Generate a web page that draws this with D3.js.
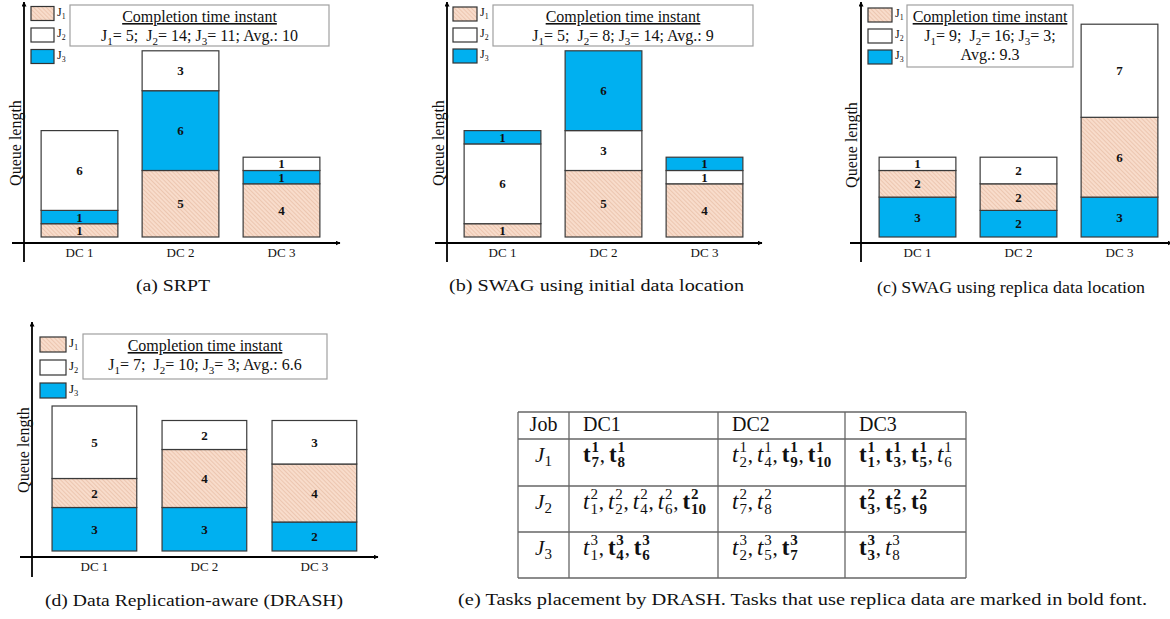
<!DOCTYPE html>
<html>
<head>
<meta charset="utf-8">
<script src="https://cdn.jsdelivr.net/npm/d3@7"></script>
<style>
  body { margin: 0; background: #fff; }
  svg text { font-family: "Liberation Serif", "Times New Roman", serif; fill: #111; }
</style>
</head>
<body>
<svg id="fig" width="1170" height="619"></svg>
<script>
// 数据
const categories = ['DC 1', 'DC 2', 'DC 3']
const jobs = ['J1', 'J2', 'J3']

// (a) SRPT
const srptJ1 = [1, 5, 4]
const srptJ2 = [6, 3, 1]
const srptJ3 = [1, 6, 1]
const srptDone = [5, 14, 11]
const srptAvg = '10'

// (b) SWAG 初始数据位置
const swagInitJ1 = [1, 5, 4]
const swagInitJ2 = [6, 3, 1]
const swagInitJ3 = [1, 6, 1]
const swagInitDone = [5, 8, 14]
const swagInitAvg = '9'

// (c) SWAG 副本数据位置
const swagRepJ1 = [2, 2, 6]
const swagRepJ2 = [1, 2, 7]
const swagRepJ3 = [3, 2, 3]
const swagRepDone = [9, 16, 3]
const swagRepAvg = '9.3'

// (d) DRASH
const drashJ1 = [2, 4, 4]
const drashJ2 = [5, 2, 3]
const drashJ3 = [3, 3, 2]
const drashDone = [7, 10, 3]
const drashAvg = '6.6'

// (e) 表格：'*' 表示使用副本数据（粗体）
const tableHeader = ['Job', 'DC1', 'DC2', 'DC3']
const dc1Tasks = [['7*', '8*'], ['1', '2', '4', '6', '10*'], ['1', '4*', '6*']]
const dc2Tasks = [['2', '4', '9*', '10*'], ['7', '8'], ['2', '5', '7*']]
const dc3Tasks = [['1*', '3*', '5*', '6'], ['3*', '5*', '9*'], ['3*', '8']]

const colors = {J1: 'url(#hatch)', J2: '#ffffff', J3: '#00b0f0'}

const svg = d3.select('#fig')
const defs = svg.append('defs')

// 斜线填充
const pat = defs.append('pattern')
  .attr('id', 'hatch')
  .attr('patternUnits', 'userSpaceOnUse')
  .attr('width', 3)
  .attr('height', 3)
  .attr('patternTransform', 'rotate(-45)')
pat.append('rect').attr('width', 3).attr('height', 3).attr('fill', '#f8dccb')
pat.append('line').attr('x1', 0).attr('y1', 0).attr('x2', 0).attr('y2', 3)
  .attr('stroke', '#e4b89e').attr('stroke-width', 1.2)

defs.append('marker')
  .attr('id', 'arrow')
  .attr('viewBox', '0 0 10 10')
  .attr('refX', 9).attr('refY', 5)
  .attr('markerWidth', 5).attr('markerHeight', 5)
  .attr('markerUnits', 'userSpaceOnUse')
  .attr('orient', 'auto')
  .append('path').attr('d', 'M0,0 L10,5 L0,10 z').attr('fill', '#000')

const panels = [
  {
    J1: srptJ1, J2: srptJ2, J3: srptJ3, order: ['J1', 'J3', 'J2'],
    xRange: [29, 332], base: 237, unit: 13.3, pad: 0.24,
    axisX: 24, axisY: 243, xFrom: 12, xTo: 340, yTop: 2, yBottom: 262,
    legend: {x: 31, y: 6.5, w: 23, h: 14, gap: 21.5, fs: 12},
    box: {x: 70, y: 5, w: 259, h: 41}, done: srptDone, avg: srptAvg, split: false,
    ylab: {x: 21, y: 143},
    caption: {text: '(a) SRPT', x: 136, y: 291, w: 74},
  },
  {
    J1: swagInitJ1, J2: swagInitJ2, J3: swagInitJ3, order: ['J1', 'J2', 'J3'],
    xRange: [452, 755], base: 237, unit: 13.3, pad: 0.24,
    axisX: 447, axisY: 243, xFrom: 435, xTo: 762, yTop: 2, yBottom: 262,
    legend: {x: 453, y: 7, w: 24, h: 14, gap: 21, fs: 12},
    box: {x: 493, y: 5, w: 260, h: 41}, done: swagInitDone, avg: swagInitAvg, split: false,
    ylab: {x: 444, y: 143},
    caption: {text: '(b) SWAG using initial data location', x: 449, y: 291, w: 295},
  },
  {
    J1: swagRepJ1, J2: swagRepJ2, J3: swagRepJ3, order: ['J3', 'J1', 'J2'],
    xRange: [867, 1170], base: 237, unit: 13.3, pad: 0.24,
    axisX: 861, axisY: 243, xFrom: 850, xTo: 1172, yTop: 2, yBottom: 262,
    legend: {x: 868, y: 8, w: 24, h: 14, gap: 21, fs: 12},
    box: {x: 907, y: 5, w: 166, h: 62}, done: swagRepDone, avg: swagRepAvg, split: true,
    ylab: {x: 857, y: 145},
    caption: {text: '(c) SWAG using replica data location', x: 877, y: 293, w: 268},
  },
  {
    J1: drashJ1, J2: drashJ2, J3: drashJ3, order: ['J3', 'J1', 'J2'],
    xRange: [39.4, 369.4], base: 551, unit: 14.5, pad: 0.23,
    axisX: 32, axisY: 557, xFrom: 20, xTo: 378, yTop: 322, yBottom: 577,
    legend: {x: 40, y: 337, w: 26, h: 15, gap: 23, fs: 13},
    box: {x: 83, y: 334, w: 244, h: 45}, done: drashDone, avg: drashAvg, split: false,
    ylab: {x: 29, y: 450},
    caption: {text: '(d) Data Replication-aware (DRASH)', x: 45, y: 606, w: 298},
  },
]

// 带下标的文本
function subText(sel, parts, subSize) {
  let back = 0
  parts.forEach((p) => {
    if (p.sub) {
      const d = subSize * 0.4
      sel.append('tspan').attr('font-size', subSize).attr('dy', d - back).text(p.sub)
      back = d
    } else {
      sel.append('tspan').attr('dy', -back).text(p.t)
      back = 0
    }
  })
}

function drawPanel(p) {
  const g = svg.append('g')

  const x = d3.scaleBand().domain(categories).range(p.xRange)
    .paddingInner(p.pad).paddingOuter(p.pad / 2)
  const y = d3.scaleLinear().domain([0, 16]).range([p.base, p.base - 16 * p.unit])

  const rows = categories.map((c, i) => ({cat: c, J1: p.J1[i], J2: p.J2[i], J3: p.J3[i]}))
  const series = d3.stack().keys(p.order)(rows)

  // 柱子
  const layer = g.selectAll('g.layer').data(series).join('g').attr('class', 'layer')
  layer.selectAll('rect').data((s) => s.map((d) => ({d, key: s.key}))).join('rect')
    .attr('x', (e) => x(e.d.data.cat))
    .attr('y', (e) => y(e.d[1]))
    .attr('width', x.bandwidth())
    .attr('height', (e) => y(e.d[0]) - y(e.d[1]))
    .attr('fill', (e) => colors[e.key])
    .attr('stroke', '#3a3a3a')
    .attr('stroke-width', 1.2)

  layer.selectAll('text').data((s) => s.map((d) => ({d, key: s.key}))).join('text')
    .attr('x', (e) => x(e.d.data.cat) + x.bandwidth() / 2)
    .attr('y', (e) => (y(e.d[0]) + y(e.d[1])) / 2 + 4.5)
    .attr('text-anchor', 'middle')
    .attr('font-weight', 'bold')
    .attr('font-size', 13)
    .text((e) => e.d[1] - e.d[0])

  // X轴标签
  const ax = g.append('g')
    .attr('transform', `translate(0,${p.axisY})`)
    .call(d3.axisBottom(x).tickSize(0).tickPadding(5))
  ax.select('.domain').remove()
  ax.selectAll('text')
    .attr('font-family', '"Liberation Serif", serif')
    .attr('font-size', 13)
    .attr('fill', '#111')

  // 坐标轴箭头
  g.append('line')
    .attr('x1', p.xFrom).attr('x2', p.xTo).attr('y1', p.axisY).attr('y2', p.axisY)
    .attr('stroke', '#000').attr('stroke-width', 1.8).attr('marker-end', 'url(#arrow)')
  g.append('line')
    .attr('x1', p.axisX).attr('x2', p.axisX).attr('y1', p.yBottom).attr('y2', p.yTop)
    .attr('stroke', '#000').attr('stroke-width', 1.8).attr('marker-end', 'url(#arrow)')

  // Y轴标题
  g.append('text')
    .attr('transform', `translate(${p.ylab.x},${p.ylab.y}) rotate(-90)`)
    .attr('text-anchor', 'middle')
    .attr('font-size', 16)
    .text('Queue length')

  // 图例
  const lg = p.legend
  jobs.forEach((j, i) => {
    g.append('rect')
      .attr('x', lg.x).attr('y', lg.y + i * lg.gap)
      .attr('width', lg.w).attr('height', lg.h)
      .attr('fill', colors[j]).attr('stroke', '#333').attr('stroke-width', 1.2)
    const t = g.append('text')
      .attr('x', lg.x + lg.w + 3)
      .attr('y', lg.y + i * lg.gap + lg.fs * 0.75)
      .attr('font-size', lg.fs)
    subText(t, [{t: 'J'}, {sub: j.slice(1)}], lg.fs * 0.65)
  })

  // 完成时间框
  const b = p.box
  g.append('rect')
    .attr('x', b.x).attr('y', b.y).attr('width', b.w).attr('height', b.h)
    .attr('fill', '#fff').attr('stroke', '#a0a0a0').attr('stroke-width', 1.2)
  const cx = b.x + b.w / 2
  g.append('text')
    .attr('x', cx).attr('y', b.y + 17)
    .attr('text-anchor', 'middle').attr('font-size', 16)
    .attr('text-decoration', 'underline')
    .text('Completion time instant')

  const parts = []
  p.done.forEach((v, i) => {
    parts.push({t: (i === 0 ? '' : i === 1 ? ';\u00a0 ' : '; ') + 'J'})
    parts.push({sub: String(i + 1)})
    parts.push({t: '= ' + v})
  })
  if (p.split) {
    parts.push({t: ';'})
  } else {
    parts.push({t: '; Avg.: ' + p.avg})
  }
  const l2 = g.append('text')
    .attr('x', cx).attr('y', b.y + 36)
    .attr('text-anchor', 'middle').attr('font-size', 16)
  subText(l2, parts, 11)
  if (p.split) {
    g.append('text')
      .attr('x', cx).attr('y', b.y + 55)
      .attr('text-anchor', 'middle').attr('font-size', 16)
      .text('Avg.: ' + p.avg)
  }

  // 标题
  g.append('text')
    .attr('x', p.caption.x).attr('y', p.caption.y)
    .attr('font-size', 17)
    .attr('textLength', p.caption.w)
    .attr('lengthAdjust', 'spacingAndGlyphs')
    .text(p.caption.text)
}

panels.forEach(drawPanel)

// (e) 表格
const tbl = {cols: [518, 569, 718, 845, 966], rows: [412, 439, 486, 532, 578]}
const tg = svg.append('g')

tbl.rows.forEach((ry) => {
  tg.append('line').attr('x1', tbl.cols[0]).attr('x2', tbl.cols[4]).attr('y1', ry).attr('y2', ry)
    .attr('stroke', '#666').attr('stroke-width', 1.3)
})
tbl.cols.forEach((cxv) => {
  tg.append('line').attr('x1', cxv).attr('x2', cxv).attr('y1', tbl.rows[0]).attr('y2', tbl.rows[4])
    .attr('stroke', '#666').attr('stroke-width', 1.3)
})

tableHeader.forEach((h, i) => {
  tg.append('text')
    .attr('x', i === 0 ? (tbl.cols[0] + tbl.cols[1]) / 2 : tbl.cols[i] + 14)
    .attr('y', 431)
    .attr('text-anchor', i === 0 ? 'middle' : 'start')
    .attr('font-size', 20)
    .text(h)
})

const rowBase = [462, 509, 555]
jobs.forEach((j, r) => {
  const t = tg.append('text')
    .attr('x', (tbl.cols[0] + tbl.cols[1]) / 2)
    .attr('y', rowBase[r])
    .attr('text-anchor', 'middle')
    .attr('font-size', 21)
    .attr('font-style', 'italic')
  t.append('tspan').text('J')
  t.append('tspan').attr('font-size', 15).attr('font-style', 'normal').attr('dy', 4).text(j.slice(1))
})

// 任务列表：t 上标为作业号，下标为任务号
function drawTasks(x0, yb, tasks, job) {
  let x = x0
  tasks.forEach((tk, i) => {
    const bold = tk.endsWith('*')
    const num = tk.replace('*', '')
    const tt = tg.append('text')
      .attr('x', x).attr('y', yb)
      .attr('font-size', 23)
      .attr('font-style', bold ? 'normal' : 'italic')
      .attr('font-weight', bold ? 'bold' : 'normal')
      .text('t')
    x += tt.node().getComputedTextLength() + (bold ? 0.8 : 1)
    const sup = tg.append('text')
      .attr('x', x).attr('y', yb - 10)
      .attr('font-size', 15)
      .attr('font-weight', bold ? 'bold' : 'normal')
      .text(job)
    const sub = tg.append('text')
      .attr('x', x).attr('y', yb + 4.5)
      .attr('font-size', 15)
      .attr('font-weight', bold ? 'bold' : 'normal')
      .text(num)
    x += Math.max(sup.node().getComputedTextLength(), sub.node().getComputedTextLength())
    if (i < tasks.length - 1) {
      tg.append('text').attr('x', x + 0.8).attr('y', yb).attr('font-size', 21).text(',')
      x += 10
    }
  })
}

const taskCols = [dc1Tasks, dc2Tasks, dc3Tasks]
taskCols.forEach((col, c) => {
  col.forEach((tasks, r) => {
    drawTasks(tbl.cols[c + 1] + 14, rowBase[r], tasks, String(r + 1))
  })
})

svg.append('text')
  .attr('x', 458).attr('y', 605)
  .attr('font-size', 17)
  .attr('textLength', 689)
  .attr('lengthAdjust', 'spacingAndGlyphs')
  .text('(e) Tasks placement by DRASH. Tasks that use replica data are marked in bold font.')
</script>
</body>
</html>
